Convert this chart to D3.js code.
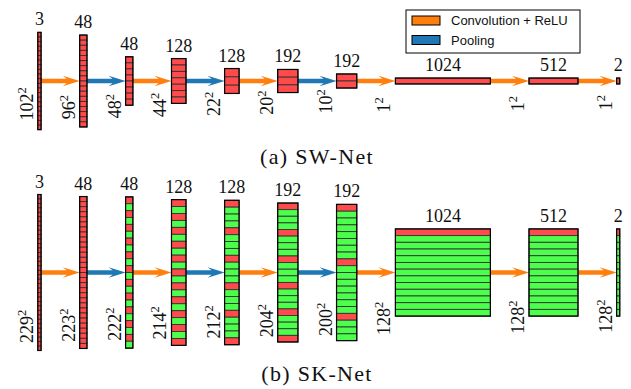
<!DOCTYPE html>
<html>
<head>
<meta charset="utf-8">
<script src="https://cdn.jsdelivr.net/npm/d3@7"></script>
<style>
  html, body { margin: 0; padding: 0; background: #fff; }
  svg { display: block; }
</style>
</head>
<body>
<script>
// ---- data ----
const channels = [3, 48, 48, 128, 128, 192, 192, 1024, 512, 2];
const sizesA = [102, 96, 48, 44, 22, 20, 10, 1, 1, 1];
const sizesB = [229, 223, 222, 214, 212, 204, 200, 128, 128, 128];
const ops = ["conv", "pool", "conv", "pool", "conv", "pool", "conv", "conv", "conv"];
const cellsA = [21, 18, 8, 7, 3, 3, 2, 1, 1, 1];
const cellsB = [35, 30, 22, 21, 21, 21, 20, 13, 13, 13];
const redEveryA = [1, 1, 1, 1, 1, 1, 1, 1, 1, 1];
const redEveryB = [1, 1, 2, 2, 4, 4, 8, 16, 16, 16];
const opKeys = ["conv", "pool"];
const opLabels = ["Convolution + ReLU", "Pooling"];
const captions = ["(a) SW-Net", "(b) SK-Net"];

// ---- setup ----
const W = 631, H = 389;
const svg = d3.select("body").append("svg").attr("width", W).attr("height", H);

const opColor = d3.scaleOrdinal().domain(opKeys).range(["#ff7f0e", "#1f77b4"]);
const RED = "#ff4b4b", GREEN = "#4dff4d";
const serif = "'Liberation Serif', 'Times New Roman', serif";

const wScale = d3.scaleLinear().domain([0, 1024]).range([3, 95]);
const gap = 38.6;
const widths = channels.map(c => wScale(c));
const xs = [];
widths.reduce((acc, w, i) => { xs[i] = acc; return acc + w + gap; }, 37.8);

const panels = [
  { sizes: sizesA, cells: cellsA, redEvery: redEveryA, cy: 81,
    h: d3.scaleLinear().domain([0, 100]).range([5, 95.5]),
    labelBase: 120.5, captionY: 164, caption: captions[0] },
  { sizes: sizesB, cells: cellsB, redEvery: redEveryB, cy: 272.5,
    h: d3.scaleLinear().domain([0, 229]).range([0, 156]),
    labelBase: 343, captionY: 381, caption: captions[1] }
];

function arrowPath(x1, x2, y) {
  const s = 2.2, hl = 17, hh = 5.3, notch = 13;
  return `M${x1},${y - s} L${x2 - notch},${y - s} L${x2 - hl},${y - hh} L${x2},${y} ` +
         `L${x2 - hl},${y + hh} L${x2 - notch},${y + s} L${x1},${y + s} Z`;
}

panels.forEach(p => {
  const g = svg.append("g");
  // arrows
  ops.forEach((op, i) => {
    const x1 = xs[i] + widths[i];
    const x2 = xs[i + 1];
    g.append("path").attr("d", arrowPath(x1, x2, p.cy)).attr("fill", opColor(op));
  });
  // bars
  channels.forEach((c, i) => {
    const hgt = p.h(p.sizes[i]);
    const top = p.cy - hgt / 2;
    const n = p.cells[i];
    const ch = hgt / n;
    const bg = g.append("g");
    d3.range(n).forEach(j => {
      bg.append("rect")
        .attr("x", xs[i]).attr("y", top + j * ch)
        .attr("width", widths[i]).attr("height", ch)
        .attr("fill", j % p.redEvery[i] === 0 ? RED : GREEN)
        .attr("stroke", "#333").attr("stroke-width", 0.9);
    });
    bg.append("rect")
      .attr("x", xs[i]).attr("y", top).attr("width", widths[i]).attr("height", hgt)
      .attr("fill", "none").attr("stroke", "#000").attr("stroke-width", 1.2);
    // channel label
    g.append("text")
      .attr("x", xs[i] + widths[i] / 2).attr("y", top - 7)
      .attr("text-anchor", "middle")
      .attr("font-family", serif).attr("font-size", 18).attr("fill", "#111")
      .text(c);
    // size label (rotated)
    const lx = xs[i] - 5, ly = p.labelBase - i * 1.15;
    const t = g.append("text")
      .attr("transform", `translate(${lx},${ly}) rotate(-90)`)
      .attr("font-family", serif).attr("font-size", 18).attr("fill", "#111");
    t.append("tspan").text(p.sizes[i]);
    t.append("tspan").attr("font-size", 12.5).attr("dy", -7).text("2");
  });
  // caption
  g.append("text")
    .attr("x", 317).attr("y", p.captionY)
    .attr("text-anchor", "middle")
    .attr("font-family", serif).attr("font-size", 22).attr("letter-spacing", 1.3)
    .attr("fill", "#111")
    .text(p.caption);
});

// legend
const lg = svg.append("g");
lg.append("rect").attr("x", 406).attr("y", 10).attr("width", 174).attr("height", 43)
  .attr("fill", "#fff").attr("stroke", "#000").attr("stroke-width", 1);
opKeys.forEach((k, i) => {
  lg.append("rect").attr("x", 412).attr("y", 16 + i * 19.5).attr("width", 28).attr("height", 9)
    .attr("fill", opColor(k)).attr("stroke", "#000").attr("stroke-width", 1);
  lg.append("text").attr("x", 451).attr("y", 25 + i * 19.5)
    .attr("font-family", "'Liberation Sans', Arial, sans-serif").attr("font-size", 13)
    .attr("fill", "#111").text(opLabels[i]);
});
</script>
</body>
</html>
